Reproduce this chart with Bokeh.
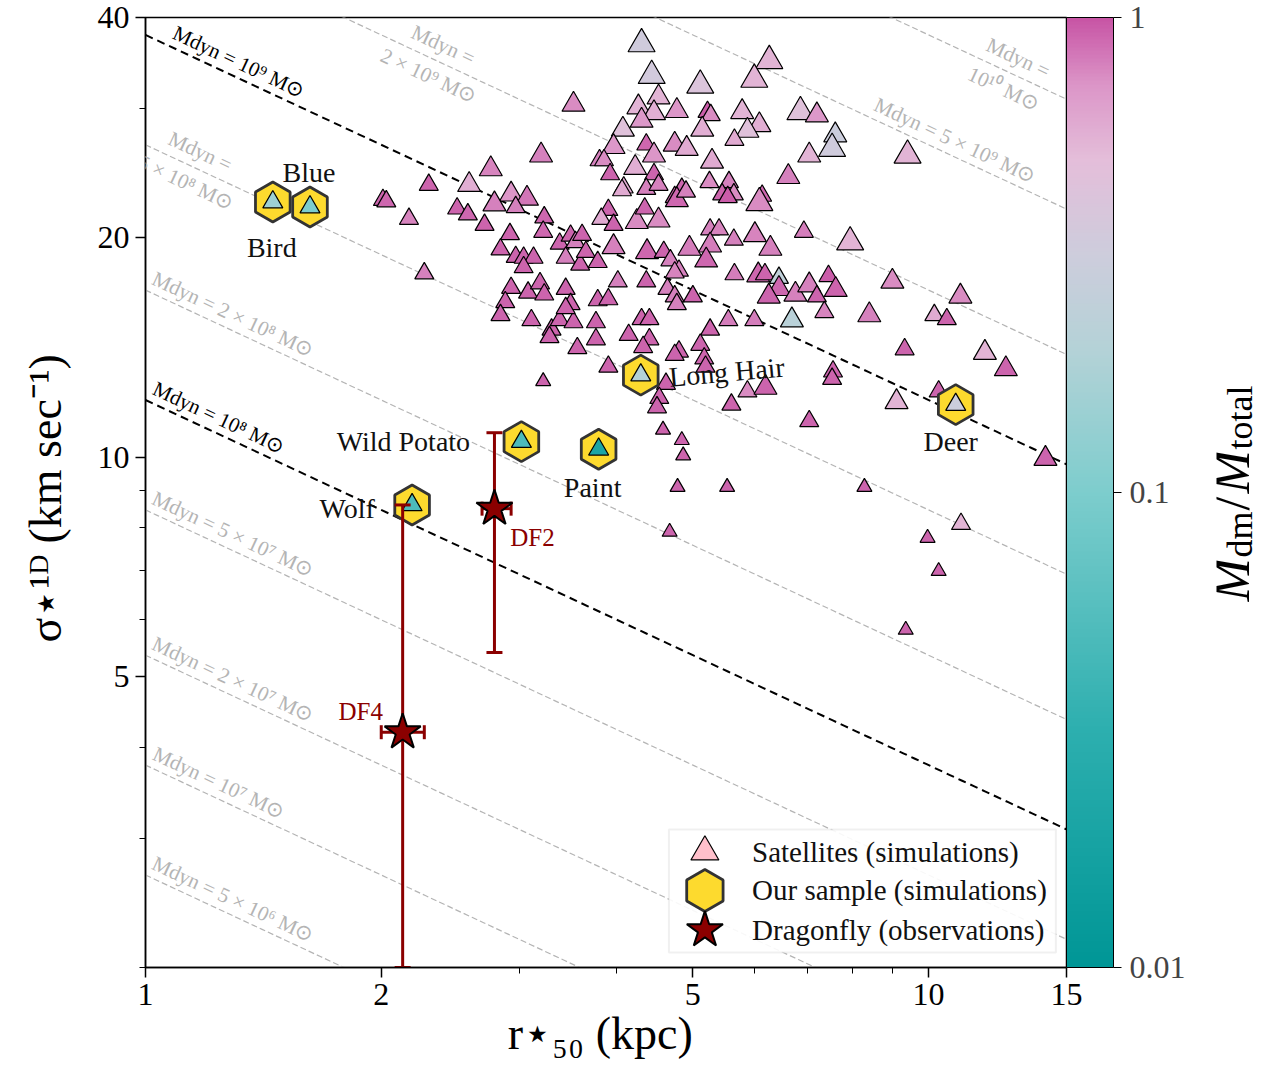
import math
import numpy as np
from bokeh.plotting import figure
from bokeh.layouts import row
from bokeh.models import (ColumnDataSource, FixedTicker, LogColorMapper, ColorBar,
                          Label, BoxAnnotation, CustomJSTickFormatter)
from bokeh.transform import log_cmap
from bokeh.embed import file_html
from bokeh.resources import INLINE

# ---------------------------------------------------------------- data
sat_r50 = [4.30, 6.26, 4.43, 5.11, 3.52, 4.52, 4.26, 5.22, 5.27, 4.77,
           4.46, 4.30, 5.99, 5.78, 6.08, 5.87, 5.65, 5.14, 6.86, 7.20,
           7.60, 7.53, 7.04, 9.40, 4.07, 3.96, 3.80, 3.85, 3.92, 4.22,
           4.36, 4.46, 4.74, 4.91, 4.46, 4.36, 4.08, 4.84, 4.74, 5.29,
           5.25, 5.56, 5.64, 5.45, 6.13, 6.62, 3.20, 2.76, 2.30, 2.59,
           2.01, 2.03, 2.17, 2.93, 3.07, 2.79, 2.97, 2.50, 2.58, 2.71,
           3.23, 3.22, 2.92, 2.84, 2.97, 3.04, 3.13, 3.04, 3.38, 3.49,
           3.54, 3.44, 3.59, 2.27, 2.93, 2.88, 3.08, 3.19, 3.23, 3.44,
           3.49, 2.84, 3.11, 3.30, 3.28, 3.38, 3.52, 3.56, 4.06, 4.52,
           4.77, 4.90, 5.54, 6.08, 3.90, 3.82, 3.96, 4.24, 4.52, 4.34,
           5.26, 5.40, 5.64, 6.00, 6.28, 6.93, 3.61, 3.65, 3.78, 3.96,
           4.37, 4.59, 4.68, 4.95, 5.26, 5.20, 4.80, 4.74, 4.36, 4.01,
           3.78, 3.90, 4.64, 4.74, 5.00, 4.77, 5.65, 6.06, 6.18, 6.44,
           6.44, 6.25, 6.76, 7.04, 6.69, 5.99, 5.55, 5.26, 5.11, 4.80,
           4.74, 5.17, 4.30, 4.40, 4.40, 4.14, 4.32, 3.76, 3.76, 3.44,
           3.90, 7.94, 8.99, 7.45, 7.61, 7.20, 7.36, 8.40, 10.98, 10.17,
           10.55, 9.32, 11.80, 12.55, 7.55, 7.53, 4.62, 4.53, 4.50, 5.19,
           5.87, 6.19, 5.60, 7.04, 4.58, 4.84, 4.86, 4.78, 5.53, 4.67,
           10.3, 9.1, 14.1, 8.28, 11.0, 9.97, 10.3, 9.35, 3.22]
sat_sigma = [36.8, 34.9, 33.3, 32.3, 30.4, 31.1, 30.15, 29.7, 29.4, 29.8,
             29.6, 28.9, 32.9, 29.7, 28.5, 28.0, 27.2, 28.1, 29.7, 29.4,
             27.6, 26.45, 25.9, 25.9, 28.1, 26.6, 25.5, 25.5, 24.4, 24.9,
             26.8, 25.9, 26.8, 26.45, 24.4, 23.3, 23.4, 23.3, 22.7, 25.4,
             23.8, 23.8, 22.9, 22.9, 22.8, 24.2, 25.9, 24.8, 23.6, 23.6,
             22.5, 22.4, 21.2, 22.9, 22.6, 22.2, 22.0, 21.9, 21.5, 20.8,
             21.3, 20.35, 20.2, 19.25, 18.8, 18.75, 18.75, 18.2, 19.6, 20.1,
             19.7, 18.75, 18.35, 17.85, 17.05, 16.3, 16.8, 17.3, 16.7, 17.0,
             16.2, 15.65, 15.4, 14.95, 14.6, 15.4, 15.3, 14.1, 23.2, 23.6,
             22.5, 23.1, 22.7, 22.3, 21.8, 21.2, 20.8, 21.0, 21.1, 21.9,
             20.5, 20.5, 19.85, 20.15, 19.3, 20.35, 20.15, 19.1, 18.5, 19.4,
             19.1, 19.1, 18.6, 19.3, 19.5, 18.6, 18.0, 17.9, 17.4, 17.4,
             16.4, 16.45, 17.0, 16.6, 16.6, 16.2, 17.8, 17.75, 17.8, 17.6,
             17.0, 16.6, 16.7, 17.2, 15.4, 15.4, 15.4, 14.95, 14.25, 13.95,
             13.8, 13.65, 15.45, 15.45, 14.5, 14.7, 14.15, 15.3, 14.5, 16.0,
             13.3, 19.7, 17.4, 17.7, 16.95, 16.6, 15.8, 15.65, 16.6, 15.65,
             15.45, 14.05, 13.9, 13.2, 13.1, 12.8, 12.6, 12.05, 11.7, 13.3,
             12.3, 12.45, 11.8, 11.2, 10.9, 10.55, 10.05, 9.1, 9.1, 7.9,
             12.3, 11.9, 9.95, 9.1, 8.1, 7.75, 6.98, 5.8, 12.7]
sat_fdm = [0.33, 0.55, 0.35, 0.42, 0.75, 0.55, 0.55, 0.95, 0.75, 0.72,
           0.58, 0.70, 0.55, 0.55, 0.58, 0.45, 0.60, 0.58, 0.45, 0.70,
           0.30, 0.33, 0.55, 0.55, 0.45, 0.70, 0.80, 0.75, 0.92, 0.58,
           0.90, 0.72, 0.75, 0.60, 0.92, 0.80, 0.60, 0.90, 0.90, 0.60,
           0.75, 0.80, 0.75, 0.92, 0.90, 0.80, 0.80, 0.78, 0.92, 0.58,
           0.92, 0.90, 0.78, 0.72, 0.85, 0.80, 0.80, 0.92, 0.90, 0.93,
           0.90, 0.90, 0.92, 0.93, 0.93, 0.93, 0.93, 0.93, 0.93, 0.93,
           0.80, 0.80, 0.93, 0.80, 0.93, 0.93, 0.93, 0.93, 0.93, 0.93,
           0.93, 0.93, 0.93, 0.93, 0.93, 0.93, 0.93, 0.93, 0.60, 0.80,
           0.90, 0.80, 0.95, 0.75, 0.93, 0.60, 0.93, 0.75, 0.75, 0.93,
           0.80, 0.78, 0.80, 0.78, 0.80, 0.82, 0.93, 0.93, 0.93, 0.80,
           0.90, 0.93, 0.80, 0.82, 0.82, 0.90, 0.80, 0.78, 0.93, 0.80,
           0.93, 0.93, 0.80, 0.80, 0.93, 0.80, 0.82, 0.90, 0.92, 0.25,
           0.90, 0.93, 0.80, 0.80, 0.22, 0.82, 0.82, 0.93, 0.93, 0.93,
           0.93, 0.93, 0.93, 0.93, 0.93, 0.93, 0.93, 0.93, 0.93, 0.93,
           0.93, 0.55, 0.75, 0.95, 0.93, 0.93, 0.78, 0.80, 0.75, 0.60,
           0.93, 0.93, 0.55, 0.93, 0.93, 0.93, 0.93, 0.93, 0.93, 0.93,
           0.75, 0.93, 0.93, 0.93, 0.93, 0.93, 0.93, 0.93, 0.93, 0.93,
           0.93, 0.55, 0.93, 0.93, 0.55, 0.93, 0.93, 0.93, 0.93]
sat_logmstar = [8.1, 8.1, 8.1, 8.1, 7.5, 7.5, 7.5, 6.9, 6.9, 7.5,
                7.5, 7.5, 8.1, 7.5, 7.5, 7.5, 6.9, 7.5, 8.1, 7.5,
                7.5, 8.1, 7.5, 8.1, 7.5, 7.5, 6.9, 6.9, 6.9, 7.5,
                6.9, 7.5, 7.5, 7.5, 6.9, 6.9, 6.9, 6.9, 6.9, 7.5,
                6.9, 6.9, 6.9, 6.9, 6.9, 7.5, 7.5, 7.5, 6.9, 7.5,
                6.9, 6.9, 6.9, 7.5, 7.5, 7.5, 6.9, 6.9, 6.9, 6.9,
                6.9, 6.9, 6.9, 6.9, 6.9, 6.9, 6.9, 6.9, 6.9, 6.9,
                6.9, 6.9, 6.9, 6.9, 6.9, 6.9, 6.9, 6.9, 6.9, 6.9,
                6.9, 6.9, 6.9, 6.9, 6.9, 6.9, 6.9, 6.9, 6.9, 6.9,
                7.5, 6.9, 6.9, 8.1, 6.9, 6.9, 6.9, 7.5, 7.5, 6.9,
                6.9, 6.9, 6.9, 7.5, 7.5, 6.9, 6.9, 6.9, 6.9, 7.5,
                7.5, 6.9, 6.9, 7.5, 7.5, 7.5, 6.9, 6.9, 6.9, 6.9,
                6.9, 6.9, 6.9, 6.9, 6.9, 6.9, 6.9, 7.5, 6.9, 6.9,
                7.5, 7.5, 7.5, 7.5, 7.5, 6.9, 6.9, 6.9, 6.9, 6.9,
                6.9, 6.9, 6.9, 6.9, 6.9, 6.9, 6.9, 6.9, 6.9, 6.9,
                6.9, 8.1, 7.5, 6.9, 7.5, 6.9, 6.9, 7.5, 7.5, 6.9,
                6.9, 6.9, 7.5, 7.5, 6.9, 6.9, 6.9, 6.9, 6.9, 6.9,
                6.9, 7.5, 6.9, 6.9, 6.3, 6.3, 6.3, 6.3, 6.3, 6.3,
                6.9, 7.5, 7.5, 6.3, 6.9, 6.3, 6.3, 6.3, 6.3]

ours_name = ["Bird", "Blue", "Long Hair", "Deer", "Wild Potato", "Paint", "Wolf"]
ours_r50 = [1.454, 1.622, 4.29, 10.83, 3.02, 3.79, 2.19]
ours_sigma = [22.35, 22.0, 12.95, 11.8, 10.5, 10.25, 8.6]
ours_fdm = [0.15, 0.10, 0.20, 0.30, 0.05, 0.02, 0.05]

df_name = ["DF2", "DF4"]
df_r50 = [2.79, 2.13]
df_r50_lo = [2.69, 2.00]
df_r50_hi = [2.93, 2.27]
df_sigma = [8.5, 4.2]
df_sigma_lo = [5.4, 2.0]
df_sigma_hi = [10.8, 8.6]

mdyn_gray = [5e6, 1e7, 2e7, 5e7, 2e8, 5e8, 2e9, 5e9, 1e10]
mdyn_black = [1e8, 1e9]

x_ticks = [1, 2, 5, 10, 15]
x_minor = [3, 4, 6, 7, 8, 9]
y_ticks = [5, 10, 20, 40]
y_minor = [2, 3, 4, 6, 7, 8, 9, 30]
cbar_ticks = [0.01, 0.1, 1]

x_title = "r⋆₅₀  (kpc)"
y_title = "σ⋆¹ᴰ  (km sec⁻¹)"
legend_labels = ["Satellites (simulations)", "Our sample (simulations)",
                 "Dragonfly (observations)"]

# ---------------------------------------------------------------- style / layout
FONT = "Liberation Serif"
X_RANGE = (1, 15)
Y_RANGE = (2, 40)
FW, FH = 921, 950
TOP, BOTTOM, LEFT, RIGHT = 17, 106, 145, 150
CANVAS_H = TOP + FH + BOTTOM
G = 4.3009e-6
DARKRED = "#8B0000"
GOLD = "#FDDA2E"
GRAY = "#b4b4b4"

def sigma_of(m, r):
    return np.sqrt(G * m / (3.0 * np.asarray(r, dtype=float)))

# colormap teal -> grey-blue -> pink -> magenta
stops_t = [0.0, 0.25, 0.5, 0.65, 0.75, 0.85, 0.93, 1.0]
stops_c = [(0, 150, 150), (45, 175, 175), (125, 205, 205), (180, 210, 215),
           (205, 205, 220), (228, 190, 218), (220, 150, 200), (200, 85, 165)]
_sc = np.array(stops_c, dtype=float)
palette = []
for t_ in np.linspace(0, 1, 256):
    rgb = [int(round(np.interp(t_, stops_t, _sc[:, k]))) for k in range(3)]
    palette.append("#%02x%02x%02x" % tuple(rgb))

p = figure(x_axis_type="log", y_axis_type="log", x_range=X_RANGE, y_range=Y_RANGE,
           frame_width=FW, frame_height=FH, min_border_left=LEFT, min_border_right=RIGHT,
           min_border_top=TOP, min_border_bottom=BOTTOM,
           output_backend="svg", toolbar_location=None)
p.grid.visible = False
p.outline_line_color = "black"
p.outline_line_width = 1.5
p.outline_line_alpha = 1.0

fmt = CustomJSTickFormatter(code="return String(Math.round(tick*1000)/1000);")
p.xaxis.ticker = FixedTicker(ticks=x_ticks, minor_ticks=x_minor)
p.yaxis.ticker = FixedTicker(ticks=y_ticks, minor_ticks=y_minor)
for ax in (p.xaxis[0], p.yaxis[0]):
    ax.formatter = fmt
    ax.major_label_text_font = FONT
    ax.major_label_text_font_size = "32px"
    ax.major_label_text_color = "black"
    ax.axis_line_width = 1.5
    ax.major_tick_in = 0
    ax.major_tick_out = 10
    ax.minor_tick_in = 0
    ax.minor_tick_out = 6
    ax.major_tick_line_width = 1.5
    ax.minor_tick_line_width = 1.0
    ax.major_label_standoff = 6
    ax.axis_label_text_font = FONT
    ax.axis_label_text_font_size = "46px"
    ax.axis_label_text_font_style = "normal"
    ax.axis_label_text_color = "black"
p.xaxis.axis_label = x_title
p.xaxis.axis_label_standoff = 0
p.yaxis.axis_label = y_title
p.yaxis.axis_label_standoff = 24

# --- dynamical-mass lines
r_line = np.geomspace(X_RANGE[0], X_RANGE[1], 80)
for m in mdyn_gray:
    p.line(r_line, sigma_of(m, r_line), line_color=GRAY, line_width=1.2, line_dash="6 3")
for m in mdyn_black:
    p.line(r_line, sigma_of(m, r_line), line_color="black", line_width=2, line_dash="8 5")

ppd_x = FW / math.log10(X_RANGE[1] / X_RANGE[0])
ppd_y = FH / math.log10(Y_RANGE[1] / Y_RANGE[0])
theta = -math.atan(0.5 * ppd_y / ppd_x)
nx, ny = -math.sin(theta), math.cos(theta)

def sup(s):
    return s.translate(str.maketrans("0123456789", "⁰¹²³⁴⁵⁶⁷⁸⁹"))

def mass_text(m):
    e = int(math.floor(math.log10(m) + 1e-9))
    c = m / 10 ** e
    pre = "" if abs(c - 1) < 1e-6 else "%d × " % round(c)
    return pre + "10" + sup(str(e)) + " M⊙"

single = {1e9: 1.292, 1e8: 1.218, 5e9: 10.61, 2e8: 1.270, 5e7: 1.270,
          2e7: 1.270, 1e7: 1.218, 5e6: 1.270}
double = {2e9: 2.349, 1e10: 12.74, 5e8: 1.150}

def mlabel(m, xc, d, text, color):
    yc = float(sigma_of(m, xc))
    p.add_layout(Label(x=xc, y=yc, x_offset=d * nx, y_offset=d * ny, text=text,
                       angle=theta, text_align="center", text_baseline="middle",
                       text_color=color, text_font=FONT, text_font_size="21px"))

for m, xc in single.items():
    col = "black" if m in mdyn_black else GRAY
    mlabel(m, xc, 15, "Mdyn = " + mass_text(m), col)
for m, xc in double.items():
    mlabel(m, xc, 17, "Mdyn =", GRAY)
    mlabel(m, xc, -17, mass_text(m), GRAY)

# --- satellites
cmap = log_cmap("f", palette, 0.01, 1)
sat_src = ColumnDataSource(dict(r=sat_r50, s=sat_sigma, f=sat_fdm,
                                size=[6.67 * v - 27 for v in sat_logmstar]))
p.scatter("r", "s", source=sat_src, marker="triangle", size="size",
          fill_color=cmap, line_color="black", line_width=1.2)

# --- our sample
ours_src = ColumnDataSource(dict(r=ours_r50, s=ours_sigma, f=ours_fdm))
p.scatter("r", "s", source=ours_src, marker="hex", angle=math.pi / 6, size=40,
          fill_color=GOLD, line_color="#333333", line_width=2.8)
p.scatter("r", "s", source=ours_src, marker="triangle", size=20,
          fill_color=cmap, line_color="black", line_width=1.2)

name_off = {"Bird": (-1, -45, 0), "Blue": (-1, 35, 0), "Long Hair": (86, 3, 0.09),
            "Deer": (-5, -37, 0), "Wild Potato": (-118, 0, 0), "Paint": (-6, -38, 0),
            "Wolf": (-65, -4, 0)}
for n, r, s in zip(ours_name, ours_r50, ours_sigma):
    dx, dy, a = name_off[n]
    p.add_layout(Label(x=r, y=s, x_offset=dx, y_offset=dy, text=n, angle=a,
                       text_align="center", text_baseline="middle",
                       text_font=FONT, text_font_size="28px", text_color="#111111"))

# --- Dragonfly
p.segment(x0=df_r50, y0=df_sigma_lo, x1=df_r50, y1=df_sigma_hi, line_color=DARKRED, line_width=3)
p.segment(x0=df_r50_lo, y0=df_sigma, x1=df_r50_hi, y1=df_sigma, line_color=DARKRED, line_width=3)
p.scatter(df_r50 + df_r50, df_sigma_lo + df_sigma_hi, marker="dash", size=16,
          line_color=DARKRED, line_width=3)
p.scatter(df_r50_lo + df_r50_hi, df_sigma + df_sigma, marker="dash", angle=math.pi / 2,
          size=14, line_color=DARKRED, line_width=3)
p.scatter(df_r50, df_sigma, marker="star", size=38, fill_color=DARKRED,
          line_color="black", line_width=2)
df_off = {"DF2": (38, -29), "DF4": (-42, 21)}
for n, r, s in zip(df_name, df_r50, df_sigma):
    dx, dy = df_off[n]
    p.add_layout(Label(x=r, y=s, x_offset=dx, y_offset=dy, text=n,
                       text_align="center", text_baseline="middle",
                       text_font=FONT, text_font_size="25px", text_color=DARKRED))

# --- colour bar
mapper = LogColorMapper(palette=palette, low=0.01, high=1)
cb = ColorBar(color_mapper=mapper, width=47, height=FH, padding=0, margin=0,
              ticker=FixedTicker(ticks=cbar_ticks), formatter=fmt,
              major_label_text_font=FONT, major_label_text_font_size="32px",
              major_tick_in=0, major_tick_out=8, major_tick_line_color="black",
              minor_tick_line_color=None, bar_line_color="black", bar_line_width=1,
              label_standoff=8, title=None)
p.add_layout(cb, "right")

# --- legend (drawn by hand so markers keep their size)
p.add_layout(BoxAnnotation(left=4.66, right=14.54, bottom=2.097, top=3.09,
                           fill_color="white", fill_alpha=0.9,
                           line_color="#cccccc", line_width=2, level="annotation"))
leg_x, leg_tx = 5.18, 5.95
leg_y = [2.88, 2.55, 2.25]
p.scatter([leg_x], [leg_y[0]], marker="triangle", size=28, fill_color="#FFC0CB",
          line_color="black", line_width=1.2, level="overlay")
p.scatter([leg_x], [leg_y[1]], marker="hex", angle=math.pi / 6, size=42, fill_color=GOLD,
          line_color="#333333", line_width=2.8, level="overlay")
p.scatter([leg_x], [leg_y[2]], marker="star", size=38, fill_color=DARKRED,
          line_color="black", line_width=2, level="overlay")
for txt, yy in zip(legend_labels, leg_y):
    p.add_layout(Label(x=leg_tx, y=yy, text=txt, text_align="left", text_baseline="middle",
                       text_font=FONT, text_font_size="29px", text_color="#111111",
                       level="overlay"))

# --- colour-bar title in a narrow strip to the right: M_dm / M_total
TW = 50
t = figure(width=TW, height=CANVAS_H, x_range=(0, TW), y_range=Y_RANGE, y_axis_type="log",
           x_axis_location=None, y_axis_location=None,
           min_border_left=0, min_border_right=0, min_border_top=TOP, min_border_bottom=BOTTOM,
           output_backend="svg", toolbar_location=None)
t.grid.visible = False
t.outline_line_color = None
# (text, px size, italic, subscript, advance in px)
title_pieces = [("M", 52, True, False, 44), ("dm", 36, False, True, 47),
                ("/", 52, False, False, 17), ("M", 52, True, False, 44),
                ("total", 36, False, True, 66)]
total_len = sum(pc[4] for pc in title_pieces)
y_mid = math.sqrt(Y_RANGE[0] * Y_RANGE[1])
off = -total_len / 2.0
for txt, sz, it, sub, adv in title_pieces:
    t.add_layout(Label(x=15 + (8 if sub else 0), y=y_mid, y_offset=off, text=txt,
                       angle=math.pi / 2, text_align="left", text_baseline="alphabetic",
                       text_font=FONT, text_font_size="%dpx" % sz,
                       text_font_style="italic" if it else "normal", text_color="black"))
    off += adv

open("out.html", "w").write(file_html(row(p, t), INLINE))
